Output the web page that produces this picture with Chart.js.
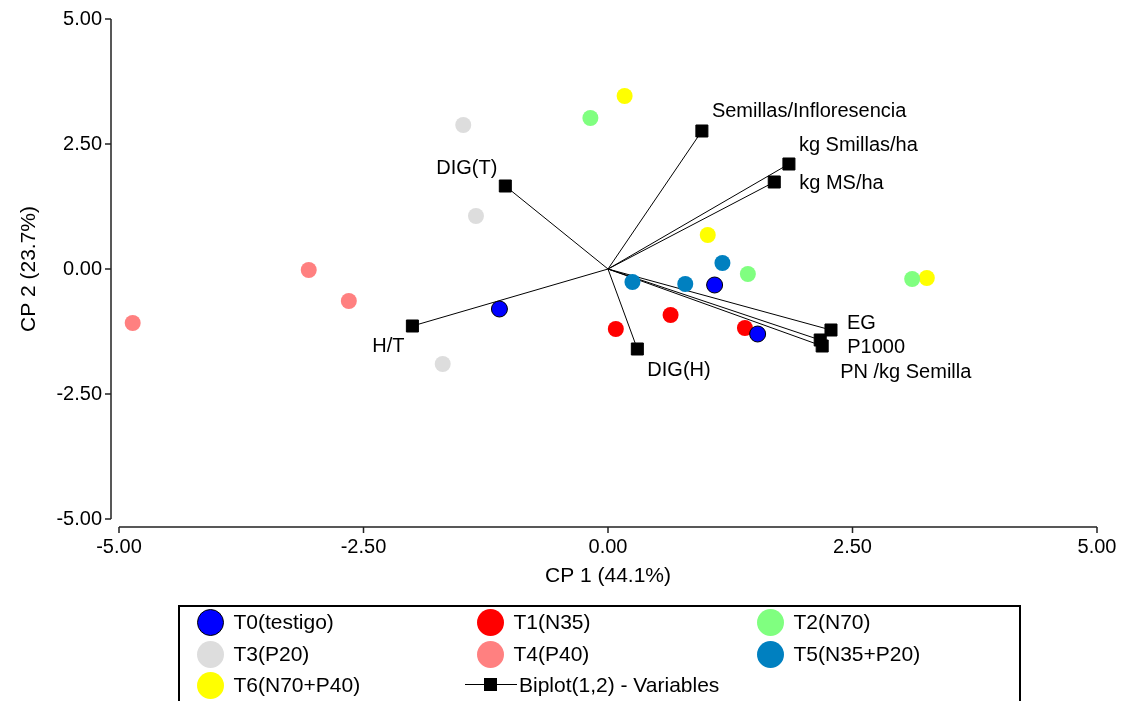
<!DOCTYPE html>
<html lang="es">
<head>
<meta charset="UTF-8">
<title>Biplot CP1 - CP2</title>
<script src="https://cdn.jsdelivr.net/npm/chart.js"></script>
<style>
  body { margin: 0; background: #fff; font-family: "Liberation Sans", Arial, sans-serif; }
  .contenedor { position: relative; width: 1123px; height: 701px; overflow: hidden; }
  #leyenda { position: absolute; left: 178px; top: 605px; width: 843px; height: 120px;
             border: 2px solid #000; box-sizing: border-box; }
  .item { position: absolute; height: 28px; display: flex; align-items: center;
          font-size: 21px; color: #000; white-space: nowrap; }
  .marca { width: 27px; height: 27px; border-radius: 50%; margin-right: 10px; box-sizing: border-box; }
  .linea { position: relative; width: 52px; height: 28px; margin-right: 2px; }
  .linea:before { content: ""; position: absolute; left: 0; right: 0; top: 13px; border-top: 1.5px solid #000; }
  .linea:after { content: ""; position: absolute; left: 19px; top: 7px; width: 13px; height: 13px; background: #000; }
</style>
</head>
<body>
<div class="contenedor">
  <canvas id="myChart" width="1123" height="701"></canvas>
  <div id="leyenda"></div>
</div>
<script>
// tratamientos (3 repeticiones cada uno)
const tratamientos = ['T0(testigo)', 'T1(N35)', 'T2(N70)', 'T3(P20)', 'T4(P40)', 'T5(N35+P20)', 'T6(N70+P40)'];
const colores = ['#0000ff', '#ff0000', '#80ff80', '#dddddd', '#ff8080', '#0080c0', '#ffff00'];

// puntajes CP1 / CP2 por tratamiento
const t0CP1 = [-1.11, 1.09, 1.53];  const t0CP2 = [-0.80, -0.32, -1.30];
const t1CP1 = [0.08, 0.64, 1.40];   const t1CP2 = [-1.20, -0.92, -1.18];
const t2CP1 = [-0.18, 1.43, 3.11];  const t2CP2 = [3.02, -0.10, -0.20];
const t3CP1 = [-1.48, -1.35, -1.69]; const t3CP2 = [2.88, 1.06, -1.90];
const t4CP1 = [-4.86, -3.06, -2.65]; const t4CP2 = [-1.08, -0.02, -0.64];
const t5CP1 = [0.25, 0.79, 1.17];   const t5CP2 = [-0.26, -0.30, 0.12];
const t6CP1 = [0.17, 1.02, 3.26];   const t6CP2 = [3.46, 0.68, -0.18];

const puntosCP1 = [t0CP1, t1CP1, t2CP1, t3CP1, t4CP1, t5CP1, t6CP1];
const puntosCP2 = [t0CP2, t1CP2, t2CP2, t3CP2, t4CP2, t5CP2, t6CP2];

// variables del biplot
const variables = ['Semillas/Infloresencia', 'kg Smillas/ha', 'kg MS/ha', 'DIG(T)', 'H/T', 'DIG(H)', 'EG', 'P1000', 'PN /kg Semilla'];
const varCP1 = [0.96, 1.85, 1.70, -1.05, -2.00, 0.30, 2.28, 2.17, 2.19];
const varCP2 = [2.76, 2.10, 1.74, 1.66, -1.14, -1.60, -1.22, -1.42, -1.54];

const ticksEje = [-5, -2.5, 0, 2.5, 5];

// desplazamiento de cada etiqueta respecto a su marcador (px)
const etiquetaDx = [10, 10, 25, -8, -8, 10, 16, 27, 18];
const etiquetaDy = [-20, -19, 1, -18, 20, 21, -7, 7, 26];
const etiquetaAlineacion = ['left', 'left', 'left', 'right', 'right', 'left', 'left', 'left', 'left'];

const fuente = '"Liberation Sans", Arial, sans-serif';

// datasets de tratamientos
const dsTratamientos = tratamientos.map(function (nombre, i) {
  return {
    label: nombre,
    data: puntosCP1[i].map(function (x, j) { return { x: x, y: puntosCP2[i][j] }; }),
    backgroundColor: colores[i],
    borderColor: i === 0 ? '#000' : colores[i],
    borderWidth: i === 0 ? 1 : 0,
    pointRadius: 8,
    pointHoverRadius: 8
  };
});

// un vector por variable, desde el origen
const dsVariables = variables.map(function (nombre, i) {
  return {
    label: nombre,
    data: [{ x: 0, y: 0 }, { x: varCP1[i], y: varCP2[i] }],
    showLine: true,
    borderColor: '#000',
    borderWidth: 1,
    backgroundColor: '#000',
    pointStyle: 'rect',
    pointRadius: [0, 8.5],
    pointHoverRadius: [0, 8.5],
    esVariable: true
  };
});

// ejes separados del area del grafico
const ejesSeparados = {
  id: 'ejesSeparados',
  afterDraw: function (chart) {
    const c = chart.ctx;
    const a = chart.chartArea;
    const sx = chart.scales.x, sy = chart.scales.y;
    const ex = a.left - 8, ey = a.bottom + 8;
    c.save();
    c.strokeStyle = '#222';
    c.lineWidth = 1.5;
    c.beginPath();
    c.moveTo(ex, sy.getPixelForValue(5)); c.lineTo(ex, sy.getPixelForValue(-5));
    c.moveTo(sx.getPixelForValue(-5), ey); c.lineTo(sx.getPixelForValue(5), ey);
    ticksEje.forEach(function (v) {
      c.moveTo(ex - 6, sy.getPixelForValue(v)); c.lineTo(ex, sy.getPixelForValue(v));
      c.moveTo(sx.getPixelForValue(v), ey); c.lineTo(sx.getPixelForValue(v), ey + 6);
    });
    c.stroke();
    c.restore();
  }
};

// nombres de las variables junto a cada vector
const etiquetasVariables = {
  id: 'etiquetasVariables',
  afterDatasetsDraw: function (chart) {
    const c = chart.ctx;
    c.save();
    c.font = '20px ' + fuente;
    c.fillStyle = '#000';
    c.textBaseline = 'middle';
    chart.data.datasets.forEach(function (ds, k) {
      if (!ds.esVariable) return;
      const i = variables.indexOf(ds.label);
      const p = chart.getDatasetMeta(k).data[1];
      c.textAlign = etiquetaAlineacion[i];
      c.fillText(ds.label, p.x + etiquetaDx[i], p.y + etiquetaDy[i]);
    });
    c.restore();
  }
};

// sin margen extra por las etiquetas de los extremos
function sinRelleno(s) {
  s.paddingLeft = 0; s.paddingRight = 0; s.paddingTop = 0; s.paddingBottom = 0;
}

const ctx = document.querySelector('#myChart');
new Chart(ctx, {
  type: 'scatter',
  data: { datasets: dsTratamientos.concat(dsVariables) },
  options: {
    responsive: false,
    animation: false,
    layout: { padding: { left: 0, top: 19, right: 26, bottom: 0 } },
    plugins: { legend: { display: false }, tooltip: { enabled: false } },
    scales: {
      x: {
        type: 'linear', min: -5, max: 5,
        afterFit: function (s) { s.height = 182; sinRelleno(s); },
        afterBuildTicks: function (s) { s.ticks = ticksEje.map(function (v) { return { value: v }; }); },
        grid: { display: false }, border: { display: false },
        ticks: { padding: 8, color: '#000', font: { family: fuente, size: 20 },
                 callback: function (v) { return v.toFixed(2); } },
        title: { display: true, text: 'CP 1 (44.1%)', color: '#000',
                 font: { family: fuente, size: 21 }, padding: { top: 0, bottom: 112 } }
      },
      y: {
        type: 'linear', min: -5, max: 5,
        afterFit: function (s) { s.width = 119; sinRelleno(s); },
        afterBuildTicks: function (s) { s.ticks = ticksEje.map(function (v) { return { value: v }; }); },
        grid: { display: false }, border: { display: false },
        ticks: { padding: 9, color: '#000', font: { family: fuente, size: 20 },
                 callback: function (v) { return v.toFixed(2); } },
        title: { display: true, text: 'CP 2 (23.7%)', color: '#000',
                 font: { family: fuente, size: 21 }, padding: { top: 17, bottom: 0 } }
      }
    }
  },
  plugins: [ejesSeparados, etiquetasVariables]
});

// leyenda en tres columnas (centro de cada marca)
const colX = [30, 310, 590];
const filaY = [15, 47, 78];
const leyenda = document.querySelector('#leyenda');
tratamientos.forEach(function (nombre, i) {
  const d = document.createElement('div');
  d.className = 'item';
  d.style.left = (colX[i % 3] - 13.5) + 'px';
  d.style.top = (filaY[Math.floor(i / 3)] - 14) + 'px';
  const m = document.createElement('span');
  m.className = 'marca';
  m.style.background = colores[i];
  if (i === 0) m.style.border = '1.5px solid #000';
  d.appendChild(m);
  d.appendChild(document.createTextNode(nombre));
  leyenda.appendChild(d);
});
const dv = document.createElement('div');
dv.className = 'item';
dv.style.left = (colX[1] - 25) + 'px';
dv.style.top = (filaY[2] - 14) + 'px';
dv.innerHTML = '<span class="linea"></span>Biplot(1,2) - Variables';
leyenda.appendChild(dv);
</script>
</body>
</html>
